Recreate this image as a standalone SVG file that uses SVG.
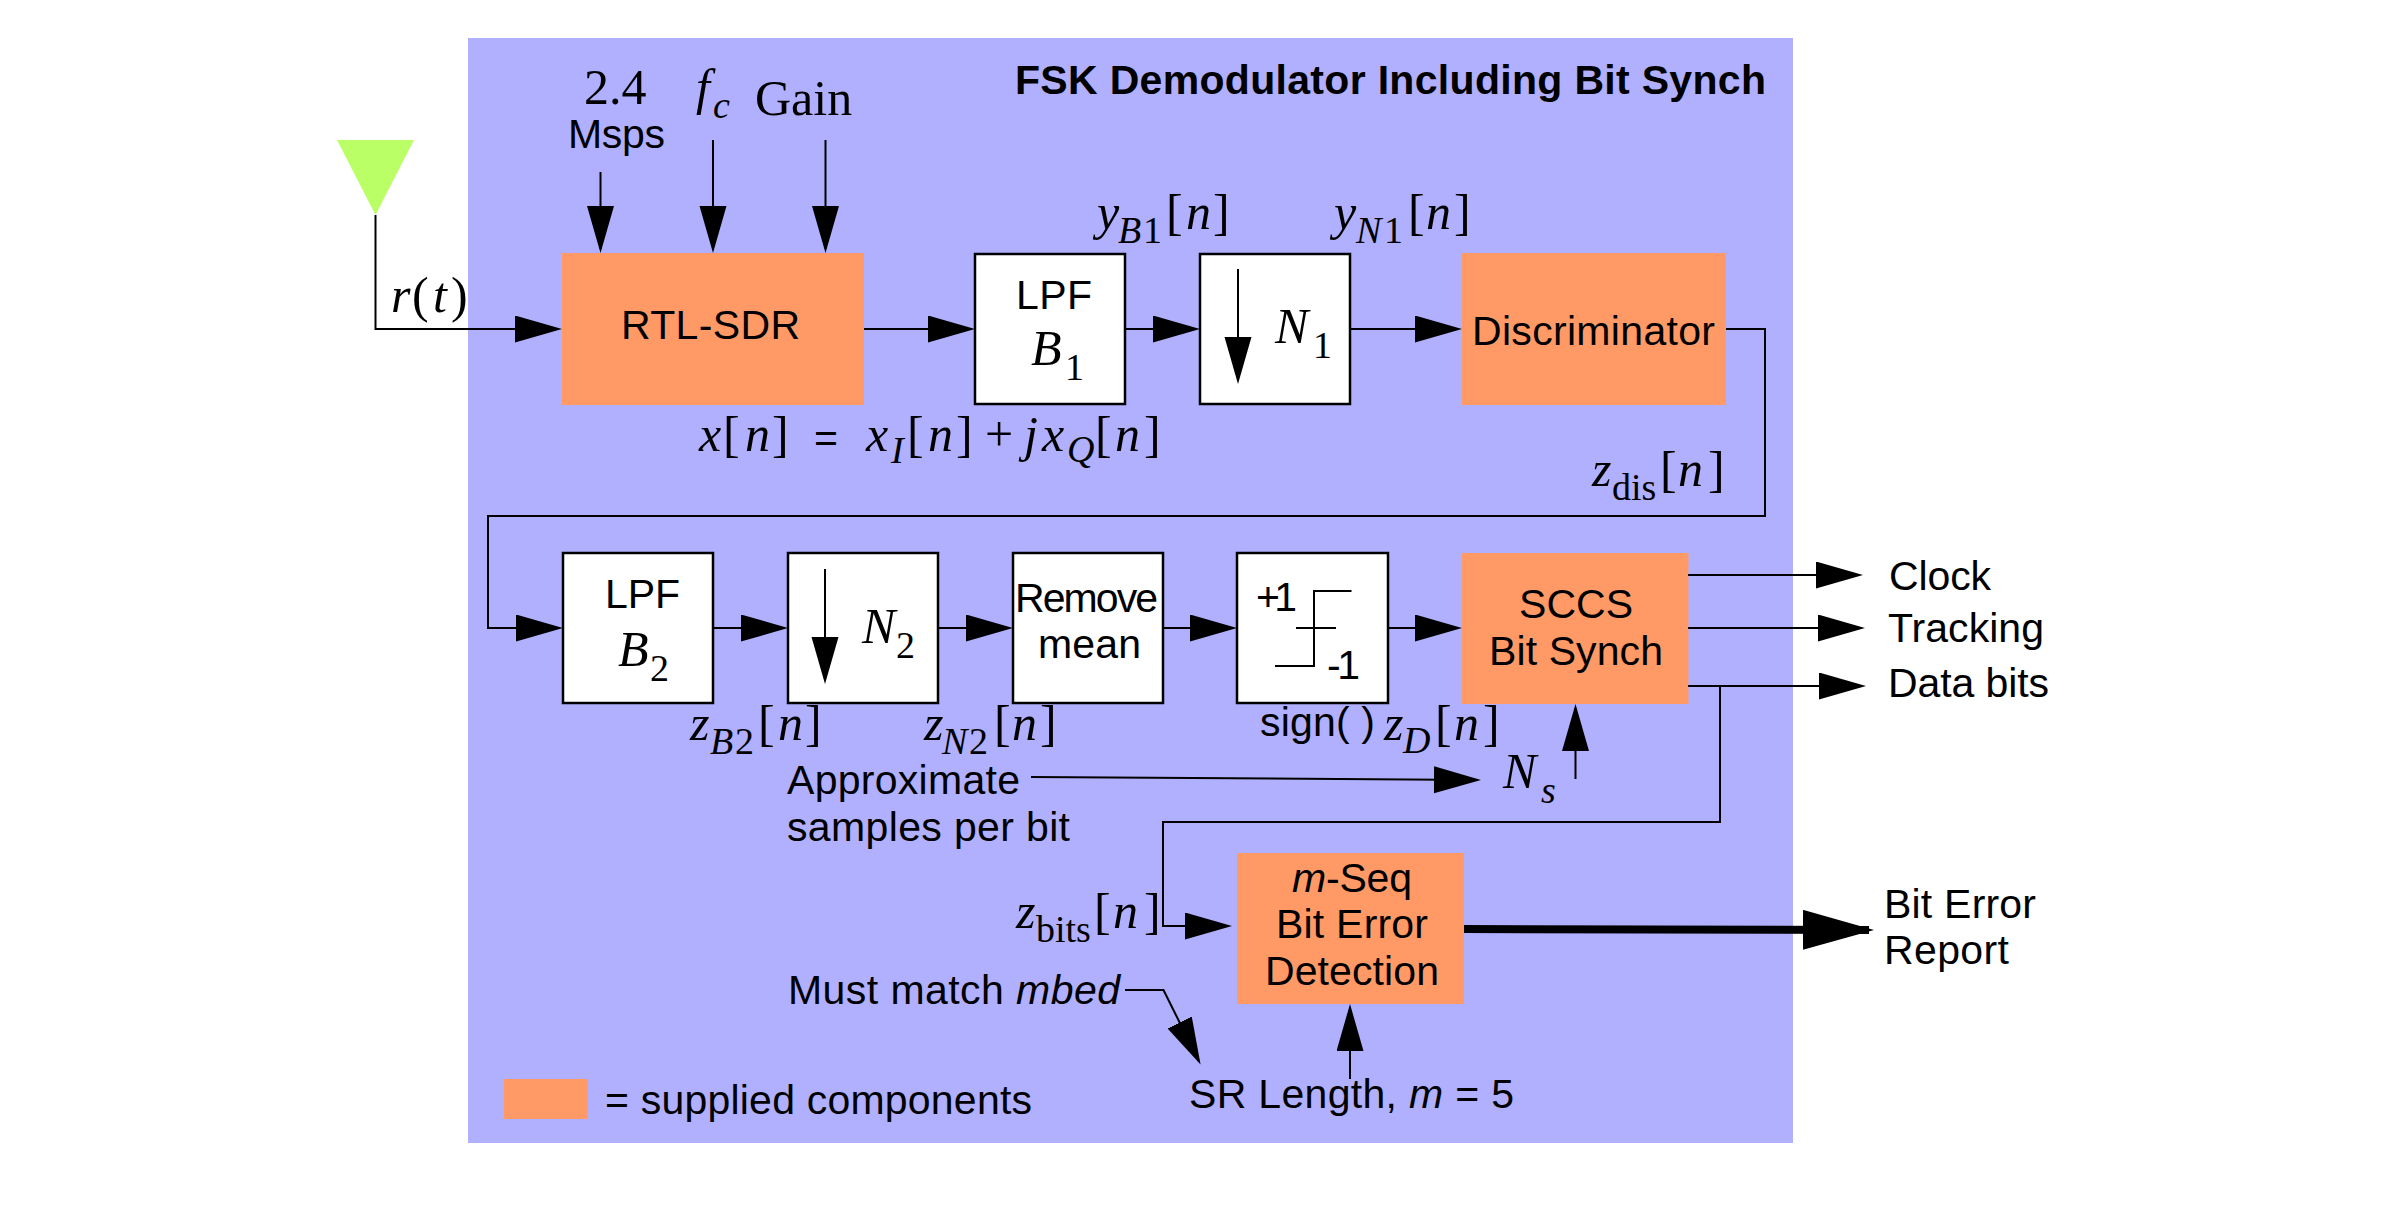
<svg xmlns="http://www.w3.org/2000/svg" width="2383" height="1216" viewBox="0 0 2383 1216">
<style>
.s{font-family:"Liberation Sans",Arial,sans-serif;font-size:41px;fill:#000}
.b{font-weight:bold}
.i{font-style:italic}
.m{font-family:"Liberation Serif","Times New Roman",serif;font-size:50px;fill:#000}
.mi{font-family:"Liberation Serif","Times New Roman",serif;font-size:50px;font-style:italic;fill:#000}
.u{font-family:"Liberation Serif","Times New Roman",serif;font-size:38px;fill:#000}
.ui{font-family:"Liberation Serif","Times New Roman",serif;font-size:38px;font-style:italic;fill:#000}
.w{fill:#fff;stroke:#000;stroke-width:2.5}
.o{fill:#ff9966}
.c{fill:none;stroke:#000;stroke-width:2}
.a{marker-end:url(#h)}
</style>
<defs>
<marker id="h" markerUnits="userSpaceOnUse" markerWidth="48" markerHeight="28" refX="43" refY="13.5" orient="auto"><path d="M0 0L47 13.5L0 27Z" fill="#000"/></marker>
<marker id="H" markerUnits="userSpaceOnUse" markerWidth="72" markerHeight="41" refX="66" refY="20" orient="auto"><path d="M0 0L71 20L0 40Z" fill="#000"/></marker>
</defs>
<rect id="panel" x="468" y="38" width="1325" height="1105" fill="#b0b0ff"/>
<text class="s b" x="1015" y="94" textLength="751">FSK Demodulator Including Bit Synch</text>

<g id="antenna"><path d="M337 140H414L375.500 215Z" fill="#bbff66"/></g>

<g id="inputs">
<text class="m" x="584" y="104">2.4</text>
<text class="s" x="568" y="148" textLength="97">Msps</text>
<text class="mi" x="696" y="104">f</text><text class="ui" x="713" y="118">c</text>
<text class="m" x="755" y="115">Gain</text>
</g>

<g id="rtl-sdr"><rect class="o" x="562" y="253" width="302" height="152"/>
<text class="s" x="621" y="339" textLength="179">RTL-SDR</text></g>

<g id="lpf1"><rect class="w" x="975" y="254" width="150" height="150"/>
<text class="s" x="1016" y="309" textLength="76">LPF</text>
<text class="mi" x="1031" y="365">B</text><text class="u" x="1065" y="380">1</text></g>

<g id="dec1"><rect class="w" x="1200" y="254" width="150" height="150"/>
<text class="mi" x="1275" y="343">N</text><text class="u" x="1313" y="358">1</text></g>

<g id="discriminator"><rect class="o" x="1462" y="253" width="264" height="152"/>
<text class="s" x="1472" y="345" textLength="243">Discriminator</text></g>

<g id="lpf2"><rect class="w" x="563" y="553" width="150" height="150"/>
<text class="s" x="605" y="608" textLength="75">LPF</text>
<text class="mi" x="618" y="666">B</text><text class="u" x="650" y="681">2</text></g>

<g id="dec2"><rect class="w" x="788" y="553" width="150" height="150"/>
<text class="mi" x="862" y="643">N</text><text class="u" x="896" y="658">2</text></g>

<g id="remove-mean"><rect class="w" x="1013" y="553" width="150" height="150"/>
<text class="s" x="1015" y="612" textLength="143">Remove</text>
<text class="s" x="1038" y="658" textLength="103">mean</text></g>

<g id="sign"><rect class="w" x="1237" y="553" width="151" height="150"/>
<path class="c" d="M1351.500 591H1314V666H1275M1296 628H1336"/>
<text class="s" x="1256" y="611" textLength="41">+1</text>
<text class="s" x="1327" y="679" textLength="33">-1</text></g>

<g id="bit-synch"><rect class="o" x="1462" y="553" width="226.500" height="151"/>
<text class="s" x="1519" y="618" textLength="114">SCCS</text>
<text class="s" x="1489" y="665" textLength="174">Bit Synch</text></g>

<g id="m-seq"><rect class="o" x="1237" y="853" width="227" height="151"/>
<text class="s" x="1292" y="892" textLength="120"><tspan class="i">m</tspan>-Seq</text>
<text class="s" x="1276" y="938" textLength="152">Bit Error</text>
<text class="s" x="1265" y="985" textLength="174">Detection</text></g>

<g id="legend"><rect class="o" x="504" y="1079" width="83.500" height="40"/>
<text class="s" x="605" y="1114" textLength="427">= supplied components</text></g>

<g id="connectors">
<path class="c a" d="M375.500 215V329H558"/>
<path class="c a" d="M600.500 172V249"/>
<path class="c a" d="M713 140V249"/>
<path class="c a" d="M825.500 140V249"/>
<path class="c a" d="M864 329H971"/>
<path class="c a" d="M1125 329H1196"/>
<path class="c a" d="M1238 269V380"/>
<path class="c a" d="M1350 329H1458"/>
<path class="c a" d="M1726 329H1765V516H488V628H559"/>
<path class="c a" d="M713 628H784"/>
<path class="c a" d="M825 569V680"/>
<path class="c a" d="M938 628H1009"/>
<path class="c a" d="M1163 628H1233"/>
<path class="c a" d="M1388 628H1458"/>
<path class="c a" d="M1688 575H1859"/>
<path class="c a" d="M1688 628H1861"/>
<path class="c a" d="M1688 686H1862"/>
<path class="c a" d="M1720 686V822H1163V926H1228"/>
<path class="c a" d="M1031 777L1477 780"/>
<path class="c a" d="M1575.500 779V708"/>
<path class="c a" d="M1125 990H1163.500L1198.800 1061"/>
<path class="c a" d="M1350 1079V1008"/>
<path d="M1464 929L1869 930" fill="none" stroke="#000" stroke-width="8" marker-end="url(#H)"/>
</g>

<g id="labels">
<text class="mi" x="391" y="312">r</text><text class="m" x="412" y="312">(</text><text class="mi" x="433" y="312">t</text><text class="m" x="451" y="312">)</text>

<text class="mi" x="699" y="451">x</text><text class="m" x="723" y="451">[</text><text class="mi" x="745" y="451">n</text><text class="m" x="772" y="451">]</text>
<text class="s" x="814" y="452">=</text>
<text class="mi" x="866" y="451">x</text><text class="ui" x="891" y="463">I</text><text class="m" x="907" y="451">[</text><text class="mi" x="928" y="451">n</text><text class="m" x="956" y="451">]</text>
<text class="m" x="985" y="451">+</text><text class="mi" x="1024" y="451">j</text><text class="mi" x="1042" y="451">x</text><text class="ui" x="1067" y="462">Q</text><text class="m" x="1095" y="451">[</text><text class="mi" x="1115" y="451">n</text><text class="m" x="1144" y="451">]</text>

<text class="mi" x="1097" y="229">y</text><text class="ui" x="1118" y="243">B</text><text class="u" x="1143" y="243">1</text><text class="m" x="1166" y="229">[</text><text class="mi" x="1186" y="229">n</text><text class="m" x="1213" y="229">]</text>
<text class="mi" x="1334" y="229">y</text><text class="ui" x="1356" y="243">N</text><text class="u" x="1384" y="243">1</text><text class="m" x="1408" y="229">[</text><text class="mi" x="1426" y="229">n</text><text class="m" x="1454" y="229">]</text>

<text class="mi" x="1592" y="486">z</text><text class="u" x="1612" y="500">dis</text><text class="m" x="1660" y="486">[</text><text class="mi" x="1678" y="486">n</text><text class="m" x="1708" y="486">]</text>

<text class="mi" x="690" y="740">z</text><text class="ui" x="710" y="754">B</text><text class="u" x="735" y="754">2</text><text class="m" x="758" y="740">[</text><text class="mi" x="778" y="740">n</text><text class="m" x="805" y="740">]</text>
<text class="mi" x="924" y="740">z</text><text class="ui" x="942" y="754">N</text><text class="u" x="969" y="754">2</text><text class="m" x="994" y="740">[</text><text class="mi" x="1012" y="740">n</text><text class="m" x="1040" y="740">]</text>

<text class="s" x="1260" y="736" textLength="115">sign( )</text>
<text class="mi" x="1384" y="740">z</text><text class="ui" x="1403" y="753">D</text><text class="m" x="1435" y="740">[</text><text class="mi" x="1454" y="740">n</text><text class="m" x="1483" y="740">]</text>
<text class="mi" x="1503" y="788">N</text><text class="ui" x="1541" y="803">s</text>

<text class="s" x="787" y="794" textLength="233">Approximate</text>
<text class="s" x="787" y="841" textLength="283">samples per bit</text>

<text class="mi" x="1016" y="928">z</text><text class="u" x="1036" y="942">bits</text><text class="m" x="1094" y="928">[</text><text class="mi" x="1113" y="928">n</text><text class="m" x="1144" y="928">]</text>

<text class="s" x="788" y="1004" textLength="332">Must match <tspan class="i">mbed</tspan></text>
<text class="s" x="1189" y="1108" textLength="325">SR Length, <tspan class="i">m</tspan> = 5</text>

<text class="s" x="1889" y="590" textLength="102">Clock</text>
<text class="s" x="1888" y="642" textLength="156">Tracking</text>
<text class="s" x="1888" y="697" textLength="161">Data bits</text>
<text class="s" x="1884" y="918" textLength="152">Bit Error</text>
<text class="s" x="1884" y="964" textLength="125">Report</text>
</g>
</svg>
